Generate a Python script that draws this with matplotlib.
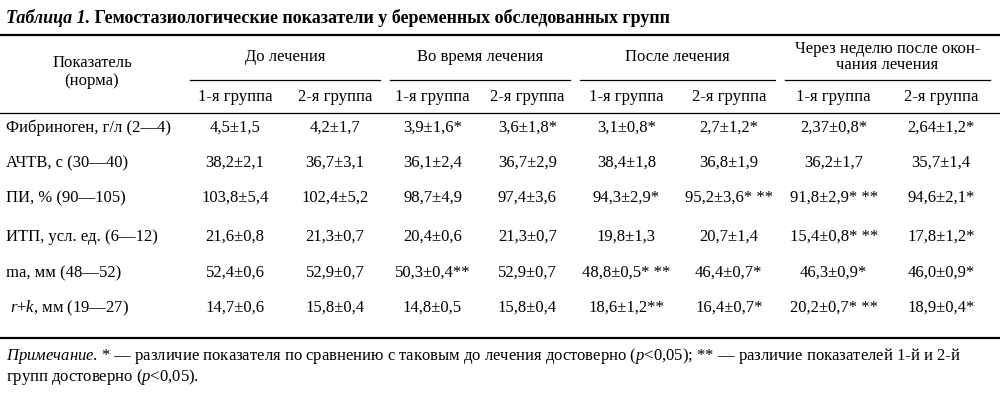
import matplotlib
matplotlib.use("Agg")
import matplotlib.pyplot as plt

plt.rcParams['font.family'] = ['Liberation Serif', 'DejaVu Serif']
plt.rcParams['mathtext.fontset'] = 'custom'
plt.rcParams['mathtext.rm'] = 'Liberation Serif'
plt.rcParams['mathtext.it'] = 'Liberation Serif:italic'
plt.rcParams['mathtext.bf'] = 'Liberation Serif:bold'

title_italic = "Таблица 1."
title_rest = " Гемостазиологические показатели у беременных обследованных групп"
groups = ["До лечения", "Во время лечения", "После лечения", "Через неделю после окон-\nчания лечения"]
subgroups = ["1-я группа", "2-я группа"]
row_labels = ["Фибриноген, г/л (2—4)", "АЧТВ, с (30—40)", "ПИ, % (90—105)",
              "ИТП, усл. ед. (6—12)", "ma, мм (48—52)", " r+k, мм (19—27)"]
cells = [
    ["4,5±1,5", "4,2±1,7", "3,9±1,6*", "3,6±1,8*", "3,1±0,8*", "2,7±1,2*", "2,37±0,8*", "2,64±1,2*"],
    ["38,2±2,1", "36,7±3,1", "36,1±2,4", "36,7±2,9", "38,4±1,8", "36,8±1,9", "36,2±1,7", "35,7±1,4"],
    ["103,8±5,4", "102,4±5,2", "98,7±4,9", "97,4±3,6", "94,3±2,9*", "95,2±3,6* **", "91,8±2,9* **", "94,6±2,1*"],
    ["21,6±0,8", "21,3±0,7", "20,4±0,6", "21,3±0,7", "19,8±1,3", "20,7±1,4", "15,4±0,8* **", "17,8±1,2*"],
    ["52,4±0,6", "52,9±0,7", "50,3±0,4**", "52,9±0,7", "48,8±0,5* **", "46,4±0,7*", "46,3±0,9*", "46,0±0,9*"],
    ["14,7±0,6", "15,8±0,4", "14,8±0,5", "15,8±0,4", "18,6±1,2**", "16,4±0,7*", "20,2±0,7* **", "18,9±0,4*"],
]

fig = plt.figure(figsize=(10, 4.03), dpi=100)
ax = fig.add_axes([0, 0, 1, 1])
ax.set_xlim(0, 1000); ax.set_ylim(403, 0); ax.axis('off')

fs = 12
t = ax.text(6, 18, title_italic, fontsize=13, fontweight='bold', style='italic', va='center')
fig.canvas.draw()
bb = t.get_window_extent()
ax.text(6 + bb.width, 18, title_rest, fontsize=13, fontweight='bold', va='center')

ax.plot([0, 1000], [35, 35], color='k', lw=1.6)
ax.plot([0, 1000], [113, 113], color='k', lw=0.9)
ax.plot([0, 1000], [338, 338], color='k', lw=1.6)

bounds = [185, 385, 575, 780, 995]
for i, g in enumerate(groups):
    x0, x1 = bounds[i], bounds[i + 1]
    ax.plot([x0 + 5, x1 - 5], [80, 80], color='k', lw=0.9)
    ax.text((x0 + x1) / 2, 57, g, fontsize=fs, ha='center', va='center', linespacing=1.0)
    xm = (x0 + x1) / 2
    ax.text((x0 + xm) / 2, 97, subgroups[0], fontsize=fs, ha='center', va='center')
    ax.text((xm + x1) / 2, 97, subgroups[1], fontsize=fs, ha='center', va='center')

ax.text(92, 72, "Показатель\n(норма)", fontsize=fs, ha='center', va='center', linespacing=1.2)

row_y = [128, 163, 198, 237, 273, 308]
for r, y in enumerate(row_y):
    lab = row_labels[r]
    if 'r+k' in lab:
        ax.text(10, y, "$\\it{r}$+$\\it{k}$, мм (19—27)", fontsize=fs, va='center')
    else:
        ax.text(6, y, lab, fontsize=fs, va='center')
    for c in range(8):
        g = c // 2
        x0, x1 = bounds[g], bounds[g + 1]
        xm = (x0 + x1) / 2
        xc = (x0 + xm) / 2 if c % 2 == 0 else (xm + x1) / 2
        ax.text(xc, y, cells[r][c], fontsize=fs, ha='center', va='center')

ax.text(6, 356, "$\\it{Примечание}$. * — различие показателя по сравнению с таковым до лечения достоверно ($\\it{p}$<0,05); ** — различие показателей 1-й и 2-й",
        fontsize=fs, va='center')
ax.text(6, 377, "групп достоверно ($\\it{p}$<0,05).", fontsize=fs, va='center')

fig.savefig("out.png", dpi=100)
